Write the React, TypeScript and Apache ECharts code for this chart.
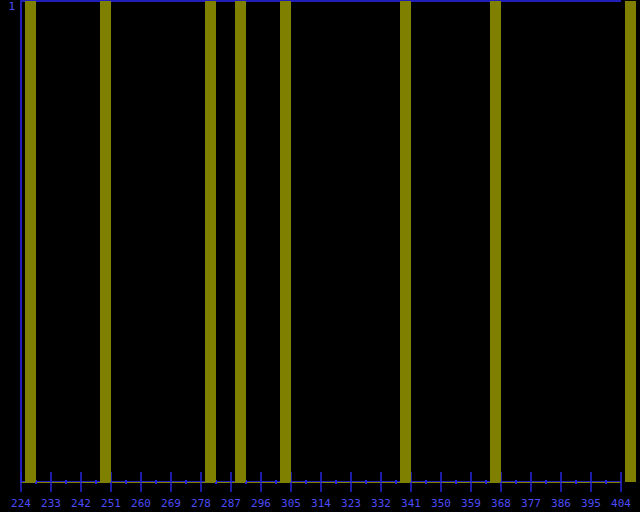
import React, { useEffect, useRef } from "react";
import * as echarts from "echarts";

const axisStart = 224;
const tickStep = 9;
const axisEnd = 404;
// centres of the non-empty bins
const binCenters = [226.85, 249.35, 280.85, 289.85, 303.35, 339.35, 366.35, 406.85];
const binCounts = [1, 1, 1, 1, 1, 1, 1, 1];
const yTickLabels = ["", "1"];

const LINE = "#2020b8";
const TICK = "#2424e0";
const LABEL = "#4c4cf8";
const BAR = "#808000";

export default function App() {
  const ref = useRef<HTMLDivElement>(null);
  useEffect(() => {
    if (!ref.current) return;
    const chart = echarts.init(ref.current, null, { renderer: "svg" });
    const fmt = (v: number) => String(Math.round(v + axisStart));
    chart.setOption({
      animation: false,
      backgroundColor: "#000000",
      grid: { left: 21, right: 19, top: 1, bottom: 30, containLabel: false },
      xAxis: [
        {
          type: "value",
          position: "bottom",
          min: 0,
          max: axisEnd - axisStart,
          interval: tickStep,
          splitLine: { show: false },
          axisLine: { show: true, lineStyle: { color: BAR, width: 1 } },
          axisTick: { show: true, length: 10, inside: false, lineStyle: { color: TICK, width: 1.5 } },
          minorTick: { show: true, splitNumber: 2, length: 2, lineStyle: { color: TICK, width: 2 } },
          axisLabel: {
            show: true,
            color: LABEL,
            fontFamily: "DejaVu Sans Mono",
            fontSize: 11,
            margin: 16,
            formatter: fmt,
          },
        },
        {
          type: "value",
          position: "bottom",
          min: 0,
          max: axisEnd - axisStart,
          interval: tickStep,
          splitLine: { show: false },
          axisLine: { show: false, lineStyle: { color: TICK } },
          axisTick: { show: true, length: 10, inside: true, lineStyle: { color: TICK, width: 1.5 } },
          minorTick: { show: true, splitNumber: 2, length: 2, lineStyle: { color: TICK, width: 2 } },
          axisLabel: { show: false },
        },
      ],
      yAxis: {
        type: "value",
        min: 0,
        max: 1,
        interval: 1,
        axisLine: { show: true, lineStyle: { color: LINE, width: 2 } },
        axisTick: { show: false },
        axisLabel: {
          color: LABEL,
          fontFamily: "DejaVu Sans Mono",
          fontSize: 11,
          margin: 6,
          verticalAlign: "top",
          formatter: (v: number) => yTickLabels[v] ?? "",
        },
        splitLine: { show: true, lineStyle: { color: LINE, width: 2 } },
      },
      series: [
        {
          type: "bar",
          xAxisIndex: 0,
          clip: false,
          barWidth: 11,
          itemStyle: { color: BAR },
          data: binCenters.map((c, i) => [c - axisStart, binCounts[i]]),
        },
      ],
    });
    return () => chart.dispose();
  }, []);
  return (
    <div
      ref={ref}
      style={{ position: "fixed", left: 0, top: 0, width: 640, height: 512 }}
    />
  );
}
